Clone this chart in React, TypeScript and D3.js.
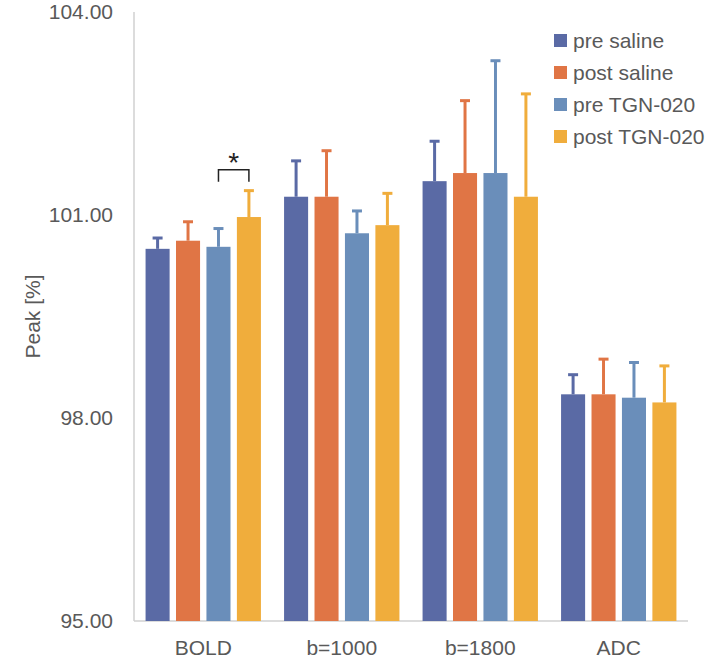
import React, { useEffect, useRef } from 'react';
import * as d3 from 'd3';

const categories = ['BOLD', 'b=1000', 'b=1800', 'ADC'];
const seriesNames = ['pre saline', 'post saline', 'pre TGN-020', 'post TGN-020'];
const seriesColors = ['#5a6aa5', '#e07545', '#6a8eba', '#f0ad3c'];

// mean values per series, in category order
const preSaline = [100.5, 101.27, 101.5, 98.35];
const postSaline = [100.62, 101.27, 101.62, 98.35];
const preTGN = [100.53, 100.73, 101.62, 98.3];
const postTGN = [100.97, 100.85, 101.27, 98.23];

// error bar (upper) sizes
const errPreSaline = [0.16, 0.53, 0.59, 0.29];
const errPostSaline = [0.28, 0.68, 1.07, 0.52];
const errPreTGN = [0.27, 0.33, 1.66, 0.52];
const errPostTGN = [0.39, 0.47, 1.52, 0.54];

const yTicks = [95, 98, 101, 104];

const W = 716;
const H = 665;

const App: React.FC = () => {
	const svgRef = useRef<SVGSVGElement>(null);

	useEffect(() => {
		if (!svgRef.current) return;
		const svg = d3.select(svgRef.current);
		svg.selectAll('*').remove();

		const values = [preSaline, postSaline, preTGN, postTGN];
		const errors = [errPreSaline, errPostSaline, errPreTGN, errPostTGN];
		const font = '"Liberation Sans", Arial, sans-serif';
		const textColor = '#595959';
		const fs = 21;

		const left = 134;
		const right = 688;
		const top = 12;
		const bottom = 621;

		const y = d3.scaleLinear().domain([95, 104]).range([bottom, top]);
		const x0 = d3.scaleBand<string>().domain(categories).range([left, right]);
		const x1 = d3.scaleBand<string>()
			.domain(seriesNames)
			.range([0, x0.bandwidth()])
			.paddingInner(0.21)
			.paddingOuter(0.38);

		// axes lines
		svg.append('line')
			.attr('x1', left).attr('x2', left)
			.attr('y1', top).attr('y2', bottom)
			.attr('stroke', '#d0d0d0').attr('stroke-width', 1.5);
		svg.append('line')
			.attr('x1', left).attr('x2', right)
			.attr('y1', bottom).attr('y2', bottom)
			.attr('stroke', '#d0d0d0').attr('stroke-width', 1.5);

		// y tick labels
		svg.selectAll('.ytick')
			.data(yTicks)
			.enter()
			.append('text')
			.attr('x', 113)
			.attr('y', d => y(d))
			.attr('dy', '0.35em')
			.attr('text-anchor', 'end')
			.attr('font-family', font)
			.attr('font-size', fs)
			.attr('fill', textColor)
			.text(d => d.toFixed(2));

		svg.append('text')
			.attr('transform', `translate(40,${(top + bottom) / 2}) rotate(-90)`)
			.attr('text-anchor', 'middle')
			.attr('font-family', font)
			.attr('font-size', fs)
			.attr('fill', textColor)
			.text('Peak [%]');

		// x labels
		svg.selectAll('.xlabel')
			.data(categories)
			.enter()
			.append('text')
			.attr('x', d => (x0(d) as number) + x0.bandwidth() / 2)
			.attr('y', 648)
			.attr('dy', '0.35em')
			.attr('text-anchor', 'middle')
			.attr('font-family', font)
			.attr('font-size', fs)
			.attr('fill', textColor)
			.text(d => d);

		// bars and error bars
		seriesNames.forEach((s, si) => {
			const g = svg.append('g');
			categories.forEach((c, ci) => {
				const bx = (x0(c) as number) + (x1(s) as number);
				const bw = x1.bandwidth();
				const v = values[si][ci];
				const e = errors[si][ci];
				const cx = bx + bw / 2;
				g.append('line')
					.attr('x1', cx).attr('x2', cx)
					.attr('y1', y(v)).attr('y2', y(v + e))
					.attr('stroke', seriesColors[si]).attr('stroke-width', 3);
				g.append('line')
					.attr('x1', cx - 5).attr('x2', cx + 5)
					.attr('y1', y(v + e)).attr('y2', y(v + e))
					.attr('stroke', seriesColors[si]).attr('stroke-width', 3);
				g.append('rect')
					.attr('x', bx)
					.attr('y', y(v))
					.attr('width', bw)
					.attr('height', y(95) - y(v))
					.attr('fill', seriesColors[si]);
			});
		});

		// significance bracket (BOLD, pre vs post TGN-020)
		const bx1 = (x0('BOLD') as number) + (x1('pre TGN-020') as number) + x1.bandwidth() / 2;
		const bx2 = (x0('BOLD') as number) + (x1('post TGN-020') as number) + x1.bandwidth() / 2;
		const by = y(101.67);
		svg.append('path')
			.attr('d', `M${bx1},${by + 12}V${by}H${bx2}V${by + 12}`)
			.attr('fill', 'none')
			.attr('stroke', '#222')
			.attr('stroke-width', 1.5);
		svg.append('text')
			.attr('x', (bx1 + bx2) / 2)
			.attr('y', by + 2)
			.attr('text-anchor', 'middle')
			.attr('font-family', font)
			.attr('font-size', 28)
			.attr('fill', '#222')
			.text('*');

		// legend
		const legend = svg.append('g');
		seriesNames.forEach((s, i) => {
			const ly = 41 + i * 32;
			legend.append('rect')
				.attr('x', 554).attr('y', ly - 7)
				.attr('width', 13).attr('height', 13)
				.attr('fill', seriesColors[i]);
			legend.append('text')
				.attr('x', 573).attr('y', ly)
				.attr('dy', '0.35em')
				.attr('font-family', font)
				.attr('font-size', fs)
				.attr('fill', textColor)
				.text(s);
		});
	}, []);

	return (
		<svg
			ref={svgRef}
			width={W}
			height={H}
			style={{ position: 'absolute', left: 0, top: 0, background: '#fff' }}
		/>
	);
};

export default App;
